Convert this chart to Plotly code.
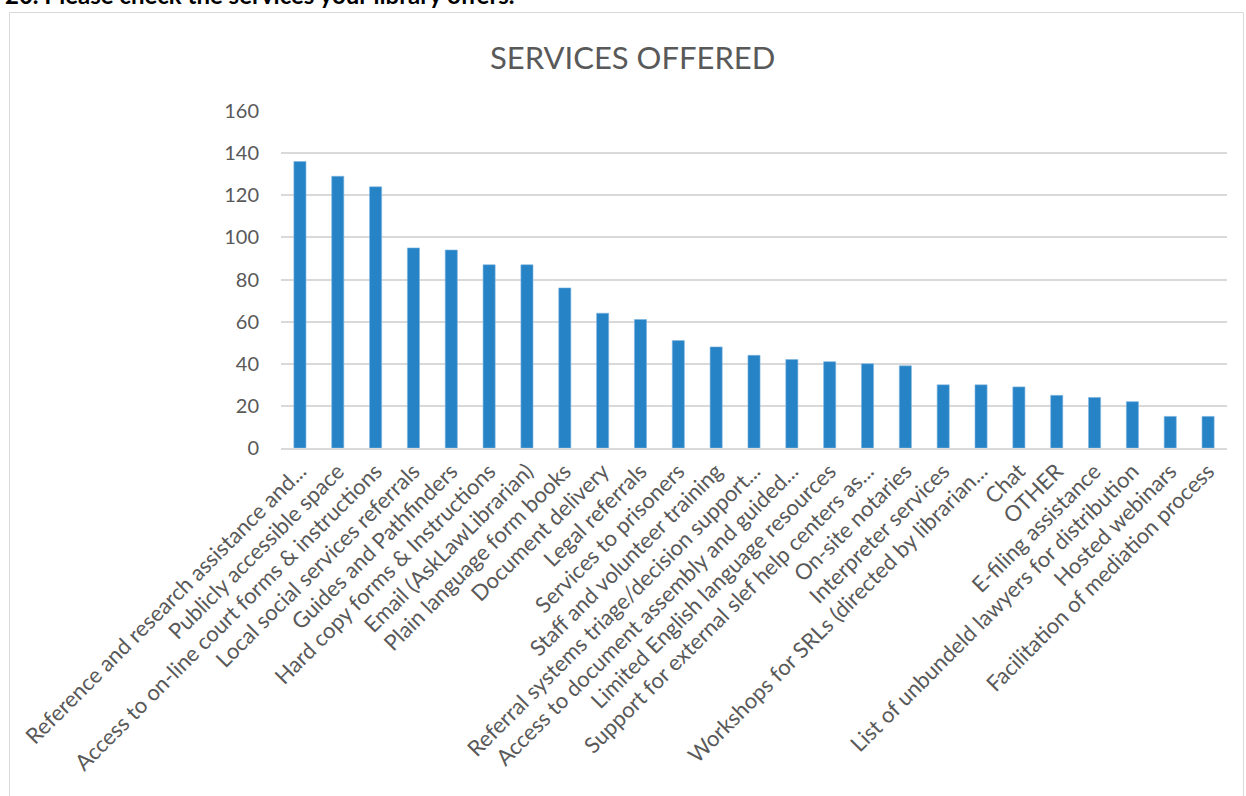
import plotly.graph_objects as go

categories = [
    "Reference and research assistance and...",
    "Publicly accessible space",
    "Access to on-line court forms & instructions",
    "Local social services referrals",
    "Guides and Pathfinders",
    "Hard copy forms & Instructions",
    "Email (AskLawLibrarian)",
    "Plain language form books",
    "Document delivery",
    "Legal referrals",
    "Services to prisoners",
    "Staff and volunteer training",
    "Referral systems triage/decision support...",
    "Access to document assembly and guided...",
    "Limited English language resources",
    "Support for external slef help centers as...",
    "On-site notaries",
    "Interpreter services",
    "Workshops for SRLs (directed by librarian...",
    "Chat",
    "OTHER",
    "E-filing assistance",
    "List of unbundeld lawyers for distribution",
    "Hosted webinars",
    "Facilitation of mediation process",
]
values = [136, 129, 124, 95, 94, 87, 87, 76, 64, 61, 51, 48, 44, 42, 41, 40, 39,
          30, 30, 29, 25, 24, 22, 15, 15]
y_ticks = [0, 20, 40, 60, 80, 100, 120, 140, 160]

W, H = 1246, 796
L, R, T, B = 281, 19, 111, 348
pw, ph = W - L - R, H - T - B

def px_x(x):
    return (x - L) / pw

def px_y(y):
    return (H - B - y) / ph

FONT = "Lato, Calibri, 'Open Sans', sans-serif"
GRAY = "#595959"

fig = go.Figure(go.Bar(
    x=categories, y=values,
    marker=dict(color="#2683C6", line=dict(color="#7fb6e0", width=0.6)),
    width=0.32,
))

fig.update_layout(
    width=W, height=H,
    margin=dict(l=L, r=R, t=T, b=B),
    paper_bgcolor="white", plot_bgcolor="white",
    showlegend=False,
    font=dict(family=FONT, color=GRAY),
    xaxis=dict(
        type="category", tickangle=-45, tickfont=dict(size=22, color=GRAY),
        showgrid=False, showline=True, linecolor="#d9d9d9", linewidth=1.5,
        ticks="", automargin=False, range=[-0.5, len(categories) - 0.5],
    ),
    yaxis=dict(
        range=[0, 160], tickvals=y_ticks, tickfont=dict(size=20, color=GRAY),
        showgrid=True, gridcolor="#d9d9d9", gridwidth=1.5, zeroline=False,
        showline=False, ticks="", ticklen=0, automargin=False,
        ticklabelstandoff=21,
    ),
    shapes=[dict(
        type="rect", xref="paper", yref="paper",
        x0=px_x(9.5), x1=px_x(1243.5), y0=px_y(830), y1=px_y(12.5),
        line=dict(color="#d9d9d9", width=1), fillcolor="rgba(0,0,0,0)",
        layer="below",
    )],
    annotations=[
        dict(text="SERVICES OFFERED", xref="paper", yref="paper",
             x=px_x(632), y=px_y(57), xanchor="center", yanchor="middle",
             showarrow=False, font=dict(size=31, color=GRAY, family=FONT)),
        dict(text="<b>20. Please check the services your library offers.</b>",
             xref="paper", yref="paper", x=px_x(3), y=px_y(11),
             xanchor="left", yanchor="bottom", showarrow=False,
             font=dict(size=24, color="black", family=FONT)),
    ],
)

fig.write_html("out.html")
